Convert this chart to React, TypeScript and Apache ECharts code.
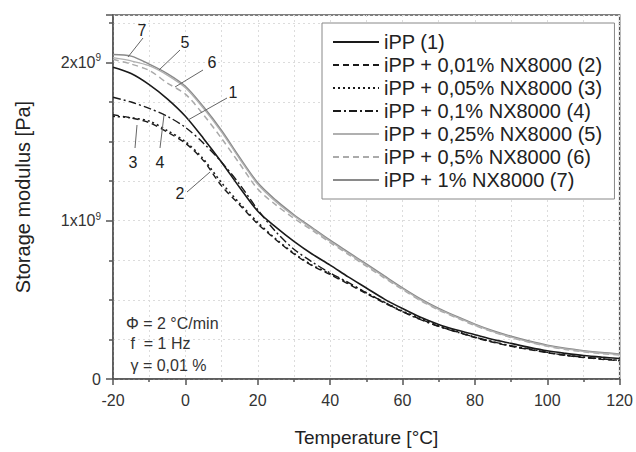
import React, { useEffect, useRef } from "react";
import * as echarts from "echarts";

// Temperature [°C]
const temperatures = [-20, -15, -10, -5, 0, 5, 10, 15, 20, 25, 30, 35, 40, 45, 50, 55, 60, 65, 70, 75, 80, 85, 90, 95, 100, 105, 110, 115, 120];

// Storage modulus in units of 10^9 Pa
const ipp1 = [1.97, 1.93, 1.86, 1.77, 1.66, 1.52, 1.37, 1.21, 1.06, 0.96, 0.87, 0.79, 0.72, 0.645, 0.575, 0.505, 0.445, 0.39, 0.345, 0.31, 0.28, 0.25, 0.225, 0.2, 0.178, 0.162, 0.148, 0.138, 0.13];
const nx001 = [1.67, 1.65, 1.62, 1.56, 1.49, 1.38, 1.22, 1.1, 0.98, 0.88, 0.79, 0.716, 0.66, 0.6, 0.54, 0.48, 0.425, 0.378, 0.333, 0.298, 0.262, 0.232, 0.207, 0.186, 0.166, 0.149, 0.136, 0.125, 0.115];
const nx005 = [1.66, 1.65, 1.63, 1.57, 1.5, 1.39, 1.24, 1.11, 0.99, 0.885, 0.795, 0.72, 0.665, 0.605, 0.545, 0.485, 0.43, 0.383, 0.337, 0.302, 0.265, 0.235, 0.209, 0.188, 0.168, 0.151, 0.138, 0.127, 0.117];
const nx01 = [1.78, 1.75, 1.71, 1.66, 1.59, 1.49, 1.37, 1.23, 1.07, 0.93, 0.82, 0.74, 0.67, 0.61, 0.545, 0.485, 0.425, 0.375, 0.332, 0.297, 0.265, 0.235, 0.21, 0.19, 0.168, 0.15, 0.138, 0.128, 0.118];
const nx025 = [2.03, 2.01, 1.98, 1.92, 1.84, 1.71, 1.56, 1.39, 1.23, 1.12, 1.03, 0.95, 0.87, 0.795, 0.72, 0.645, 0.57, 0.5, 0.44, 0.39, 0.342, 0.3, 0.265, 0.235, 0.21, 0.19, 0.175, 0.163, 0.155];
const nx05 = [2.02, 1.99, 1.95, 1.87, 1.8, 1.67, 1.52, 1.36, 1.2, 1.1, 1.015, 0.94, 0.862, 0.788, 0.713, 0.638, 0.565, 0.495, 0.436, 0.386, 0.338, 0.297, 0.262, 0.232, 0.207, 0.187, 0.172, 0.16, 0.152];
const nx1 = [2.05, 2.04, 1.99, 1.93, 1.85, 1.72, 1.57, 1.4, 1.24, 1.13, 1.038, 0.957, 0.877, 0.802, 0.727, 0.651, 0.576, 0.506, 0.446, 0.395, 0.347, 0.305, 0.27, 0.24, 0.214, 0.194, 0.179, 0.167, 0.158];

const seriesNames = [
  "iPP (1)",
  "iPP + 0,01% NX8000 (2)",
  "iPP + 0,05% NX8000 (3)",
  "iPP + 0,1% NX8000 (4)",
  "iPP + 0,25% NX8000 (5)",
  "iPP + 0,5% NX8000 (6)",
  "iPP + 1% NX8000 (7)",
];
const seriesValues = [ipp1, nx001, nx005, nx01, nx025, nx05, nx1];

const FONT = "'Liberation Sans', Arial, sans-serif";

export default function App() {
  const ref = useRef<HTMLDivElement>(null);
  useEffect(() => {
    if (!ref.current) return;
    const chart = echarts.init(ref.current, undefined, { renderer: "svg" });
    const styles = [
      { color: "#1a1a1a", width: 1.6, type: "solid" as any },
      { color: "#1a1a1a", width: 1.4, type: [6, 4] as any },
      { color: "#1a1a1a", width: 1.5, type: [2, 3] as any },
      { color: "#1a1a1a", width: 1.4, type: [8, 3, 2, 3] as any },
      { color: "#b0b0b0", width: 1.3, type: "solid" as any },
      { color: "#aaaaaa", width: 1.5, type: [6, 4] as any },
      { color: "#8a8a8a", width: 1.5, type: "solid" as any },
    ];
    const series = seriesNames.map((name, i) => ({
      name,
      type: "line",
      symbol: "none",
      smooth: 0.3,
      data: temperatures.map((t, j) => [t, seriesValues[i][j]]),
      lineStyle: styles[i],
      itemStyle: { color: styles[i].color },
      z: 3 + (6 - i),
    }));

    const labelLine = (x1: number, y1: number, x2: number, y2: number) => ({
      type: "line",
      shape: { x1, y1, x2, y2 },
      style: { stroke: "#666", lineWidth: 1 },
      z: 100,
    });
    const num = (t: string, x: number, y: number) => ({
      type: "text",
      x,
      y,
      style: { text: t, fontSize: 16, fontFamily: FONT, fill: "#222", align: "center", verticalAlign: "middle" },
      z: 100,
    });
    const note = (t: string, x: number, y: number) => ({
      type: "text",
      x,
      y,
      style: { text: t, fontSize: 16, fontFamily: FONT, fill: "#333", align: "left", verticalAlign: "middle" },
      z: 100,
    });

    chart.setOption({
      animation: false,
      backgroundColor: "#ffffff",
      grid: {
        left: 113,
        right: 14,
        top: 15,
        bottom: 64,
        show: true,
        borderColor: "#555",
        borderWidth: 1.5,
        containLabel: false,
      },
      legend: {
        orient: "vertical",
        left: 322,
        top: 23,
        data: seriesNames,
        itemWidth: 46,
        itemHeight: 14,
        itemGap: 3,
        padding: [9, 12, 9, 10],
        borderColor: "#888",
        borderWidth: 1,
        backgroundColor: "#fff",
        itemStyle: { opacity: 0 },
        textStyle: { fontSize: 20, lineHeight: 20, fontFamily: FONT, color: "#222" },
        selectedMode: false,
      },
      xAxis: {
        type: "value",
        min: -20,
        max: 120,
        interval: 20,
        name: "Temperature [°C]",
        nameLocation: "middle",
        nameGap: 49,
        nameTextStyle: { fontSize: 19, fontFamily: FONT, color: "#222" },
        axisLine: { show: true, onZero: false, lineStyle: { color: "#555", width: 1.5 } },
        axisTick: { show: true, length: 6, lineStyle: { color: "#555", width: 1.5 } },
        minorTick: { show: true, splitNumber: 2, length: 3, lineStyle: { color: "#555", width: 1.5 } },
        axisLabel: { fontSize: 16, fontFamily: FONT, color: "#333", margin: 13 },
        splitLine: { show: true, lineStyle: { color: "#dcdcdc", type: [2, 3], width: 1 } },
        minorSplitLine: { show: true, lineStyle: { color: "#dcdcdc", type: [2, 3], width: 1 } },
      },
      yAxis: {
        type: "value",
        min: 0,
        max: 2.3,
        interval: 1,
        name: "Storage modulus [Pa]",
        nameLocation: "middle",
        nameGap: 80,
        nameTextStyle: { fontSize: 20, fontFamily: FONT, color: "#222" },
        axisLine: { show: true, onZero: false, lineStyle: { color: "#555", width: 1.5 } },
        axisTick: { show: true, length: 7, lineStyle: { color: "#555", width: 1.5 } },
        minorTick: { show: true, splitNumber: 4, length: 4, lineStyle: { color: "#555", width: 1.5 } },
        axisLabel: {
          fontSize: 16,
          fontFamily: FONT,
          color: "#333",
          margin: 12,
          formatter: (v: number) => {
            if (Math.abs(v) < 1e-9) return "0";
            if (Math.abs(v - Math.round(v)) < 1e-9) return `${Math.round(v)}x10{sup|9}`;
            return "";
          },
          rich: {
            sup: { fontSize: 10, fontFamily: FONT, color: "#333", padding: [0, 0, 9, 0] },
          },
        },
        splitLine: { show: true, lineStyle: { color: "#dcdcdc", type: [2, 3], width: 1 } },
        minorSplitLine: { show: true, lineStyle: { color: "#dcdcdc", type: [2, 3], width: 1 } },
      },
      series,
      graphic: [
        num("7", 142, 30),
        labelLine(143, 38, 128, 57),
        num("5", 185, 42),
        labelLine(180, 50, 159, 70),
        num("6", 212, 62),
        labelLine(203, 70, 175, 87),
        num("1", 233, 92),
        labelLine(227, 98, 188, 120),
        num("3", 133, 162),
        labelLine(135, 148, 137, 125),
        num("4", 160, 162),
        labelLine(160, 148, 164, 115),
        num("2", 180, 193),
        labelLine(187, 192, 210, 172),
        note("Φ = 2 °C/min", 126, 323),
        note(" f  = 1 Hz", 126, 343),
        note(" γ = 0,01 %", 126, 365),
      ],
    });
    return () => chart.dispose();
  }, []);
  return (
    <div
      ref={ref}
      style={{ position: "fixed", left: 0, top: 0, width: 636, height: 452, background: "#fff" }}
    />
  );
}
